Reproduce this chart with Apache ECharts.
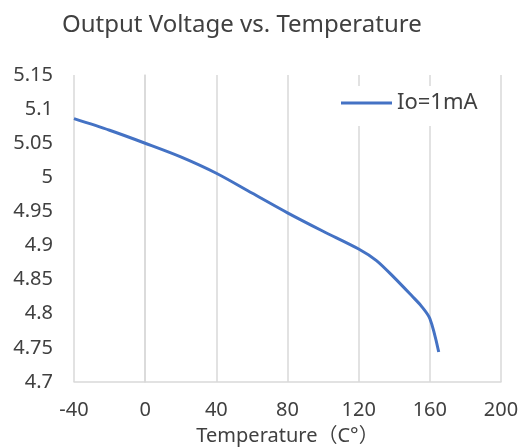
<!DOCTYPE html>
<html>
<head>
    <meta http-equiv="Content-Type" content="text/html; charset=utf-8"/>
    <title>Output Voltage vs. Temperature</title>
    <style>
        html, body { margin: 0; padding: 0; background: #fff; }
        #main { width: 520px; height: 447px; }
    </style>
    <script src="https://cdn.jsdelivr.net/npm/echarts@6/dist/echarts.min.js"></script>
</head>
<body>
<div id="main"></div>
<script type="text/javascript">
    // temperature (C) and output voltage (V)
    var temps = [-40, -20, 0, 20, 40, 60, 80, 100, 120, 130, 140, 150, 155, 160, 165];
    var volts = [5.086, 5.069, 5.050, 5.030, 5.006, 4.977, 4.948, 4.921, 4.895, 4.878, 4.853, 4.826, 4.812, 4.793, 4.744];
    var seriesName = 'Io=1mA';

    var pts = [];
    for (var i = 0; i < temps.length; i++) {
        pts.push([temps[i], volts[i]]);
    }

    var myChart = echarts.init(document.getElementById('main'));
    var font = '"Noto Sans", "Noto Sans CJK SC", sans-serif';
    var option = {
        animation: false,
        title: {
            text: 'Output Voltage vs. Temperature',
            left: 57,
            top: 8,
            textStyle: { fontFamily: font, fontSize: 24, fontWeight: 'normal', color: '#404040' }
        },
        legend: {
            data: [seriesName],
            left: 333,
            top: 86,
            padding: [6, 12, 12, 8],
            backgroundColor: '#fff',
            icon: 'rect',
            itemWidth: 51,
            itemHeight: 3,
            textStyle: { fontFamily: font, fontSize: 22, color: '#404040' }
        },
        grid: { left: 74, right: 19, top: 75, bottom: 65, outerBoundsMode: 'none' },
        xAxis: {
            type: 'value',
            min: -40,
            max: 200,
            interval: 40,
            name: 'Temperature（C°）',
            nameLocation: 'middle',
            nameGap: 44,
            nameTextStyle: { fontFamily: font, fontSize: 20, color: '#404040' },
            axisLine: { show: true, lineStyle: { color: '#d9d9d9', width: 1.5 } },
            axisTick: { show: false },
            axisLabel: { margin: 18, fontFamily: font, fontSize: 20, color: '#404040' },
            splitLine: { show: true, lineStyle: { color: '#d9d9d9', width: 1.5 } }
        },
        yAxis: {
            type: 'value',
            min: 4.7,
            max: 5.15,
            interval: 0.05,
            axisLine: { show: true, lineStyle: { color: '#d9d9d9', width: 1.5 } },
            axisTick: { show: false },
            axisLabel: {
                margin: 21,
                fontFamily: font, fontSize: 20, color: '#404040',
                formatter: function (v) { return String(+v.toFixed(2)); }
            },
            splitLine: { show: false }
        },
        series: [
            {
                name: seriesName,
                type: 'line',
                smooth: 0.3,
                showSymbol: false,
                lineStyle: { color: '#4472c4', width: 3 },
                itemStyle: { color: '#4472c4' },
                data: pts
            }
        ]
    };
    myChart.setOption(option);
</script>
</body>
</html>
